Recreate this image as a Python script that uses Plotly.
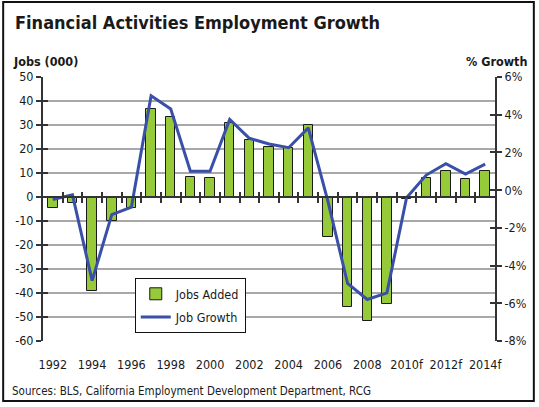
import plotly.graph_objects as go

# Financial activities employment: annual jobs added (thousands) and % growth
years = list(range(1992, 2015))
year_labels = ["1992", "1994", "1996", "1998", "2000", "2002", "2004",
               "2006", "2008", "2010f", "2012f", "2014f"]
jobs_added = [-4.4, -2.7, -39, -10, -4.6, 36.5, 33.2, 8.5, 7.8, 30.7, 23.7,
              21.0, 20.3, 30.0, -16.5, -46, -51.5, -44.6, -1.0, 7.8, 10.8, 7.4, 10.8]
job_growth = [-0.5, -0.25, -4.8, -1.3, -0.9, 5.0, 4.3, 1.0, 1.0, 3.75, 2.75,
              2.45, 2.25, 3.3, -0.6, -4.95, -5.8, -5.45, -0.4, 0.8, 1.4, 0.85, 1.38]
jobs_ticks = list(range(-60, 51, 10))
growth_ticks = [-8, -6, -4, -2, 0, 2, 4, 6]
growth_tick_labels = [f"{v}%" for v in growth_ticks]

JOBS_RANGE = [-60, 50]
GROWTH_RANGE = [-8, 6]
X_RANGE = [years[0] - 0.5, years[-1] + 0.5]

FONT = "Liberation Sans Narrow, Arial Narrow, DejaVu Sans Condensed, sans-serif"
AXIS_DARK = "#333333"
TEXT = "#1a1a1a"

fig = go.Figure()

fig.add_trace(go.Bar(
    x=years, y=jobs_added, name="Jobs Added", yaxis="y", xaxis="x",
    width=0.48, marker=dict(color="#96CA38", line=dict(color="#1a1a1a", width=1)),
    legendgroup="a",
))
fig.add_trace(go.Scatter(
    x=years, y=job_growth, name="Job Growth", yaxis="y2", xaxis="x",
    mode="lines", line=dict(color="#3A4FA8", width=3), legendgroup="b",
))

# Position of the zero line of the jobs axis in plot-area coordinates
zero_pos = (0 - JOBS_RANGE[0]) / (JOBS_RANGE[1] - JOBS_RANGE[0])
boundaries = [y + 0.5 for y in years[:-1]]

tick_style = dict(tickcolor=AXIS_DARK, tickwidth=1.5, ticklen=5)

fig.update_layout(
    width=539, height=407,
    margin=dict(l=43, r=42, t=77, b=66),
    paper_bgcolor="white", plot_bgcolor="white",
    font=dict(family=FONT, size=13, color=TEXT),
    showlegend=True,
    bargap=0,
    legend=dict(
        x=0.203, y=0.238, xanchor="left", yanchor="top",
        bgcolor="white", bordercolor="#111111", borderwidth=1,
        font=dict(family=FONT, size=12.5, color=TEXT),
        tracegroupgap=4, traceorder="grouped",
    ),
    xaxis=dict(
        range=X_RANGE, tickvals=years[::2], ticktext=year_labels,
        showgrid=False, showline=False, zeroline=False, ticks="",
        tickfont=dict(family=FONT, size=12.5, color=TEXT),
        ticklabelstandoff=14,
    ),
    xaxis2=dict(
        overlaying="x", matches="x", anchor="free", position=zero_pos,
        tickvals=boundaries, showticklabels=False, ticks="outside",
        showline=True, linecolor=AXIS_DARK, linewidth=2,
        showgrid=False, zeroline=False, **tick_style,
    ),
    xaxis3=dict(
        overlaying="x", matches="x", anchor="free", position=zero_pos,
        tickvals=boundaries, showticklabels=False, ticks="inside", showline=False,
        showgrid=False, zeroline=False, **tick_style,
    ),
    yaxis=dict(
        range=JOBS_RANGE, tickvals=jobs_ticks, ticktext=[str(v) for v in jobs_ticks],
        showgrid=True, gridcolor="#A8A8A8", gridwidth=1.5, zeroline=False,
        showline=True, linecolor=AXIS_DARK, linewidth=2, ticks="outside",
        tickfont=dict(family=FONT, size=12.5, color=TEXT), **tick_style,
    ),
    yaxis2=dict(
        range=GROWTH_RANGE, tickvals=growth_ticks, ticktext=growth_tick_labels,
        overlaying="y", side="right", anchor="x",
        showgrid=False, zeroline=False,
        showline=True, linecolor=AXIS_DARK, linewidth=2, ticks="outside",
        tickfont=dict(family=FONT, size=12.5, color=TEXT), **tick_style,
    ),
    # inner halves of the crossing tick marks on both value axes
    yaxis3=dict(
        matches="y", overlaying="y", side="left", anchor="x",
        tickvals=jobs_ticks, showticklabels=False, ticks="inside",
        showgrid=False, zeroline=False, showline=False, **tick_style,
    ),
    yaxis4=dict(
        matches="y2", overlaying="y", side="right", anchor="x",
        tickvals=growth_ticks, showticklabels=False, ticks="inside",
        showgrid=False, zeroline=False, showline=False, **tick_style,
    ),
)

# Invisible traces so the overlay tick axes are drawn
for xa, ya, yv in [("x2", "y", 0), ("x3", "y", 0), ("x", "y3", 0), ("x", "y4", 0)]:
    fig.add_trace(go.Scatter(x=[years[0]], y=[yv], xaxis=xa, yaxis=ya,
                             mode="markers", marker=dict(opacity=0),
                             showlegend=False, hoverinfo="skip"))

annotations = [
    dict(text="<b>Financial Activities Employment Growth</b>", x=13, y=22,
         font=dict(family=FONT, size=18, color=TEXT)),
    dict(text="<b>Jobs (000)</b>", x=11, y=61, font=dict(family=FONT, size=12.5, color=TEXT)),
    dict(text="<b>% Growth</b>", x=531, y=61, xanchor="right",
         font=dict(family=FONT, size=12.5, color=TEXT)),
    dict(text="Sources: BLS, California Employment Development Department, RCG", x=10, y=391,
         font=dict(family=FONT, size=11.5, color=TEXT)),
]
plot_w = 539 - 43 - 42
plot_h = 407 - 77 - 66
for a in annotations:
    # convert pixel placement to paper coordinates
    a["x"] = (a["x"] - 43) / plot_w
    a["y"] = 1 - (a["y"] - 77) / plot_h
    a.setdefault("xanchor", "left")
    a["yanchor"] = "middle"
    a["xref"] = "paper"
    a["yref"] = "paper"
    a["showarrow"] = False
fig.update_layout(annotations=annotations)

# Outer frame around the whole graphic
fig.add_shape(type="rect", xref="paper", yref="paper",
              x0=(3 - 43) / plot_w, x1=(536 - 43) / plot_w,
              y0=1 - (401 - 77) / plot_h, y1=1 - (2 - 77) / plot_h,
              line=dict(color="#111111", width=2), fillcolor="rgba(0,0,0,0)")

fig.write_html("out.html")
